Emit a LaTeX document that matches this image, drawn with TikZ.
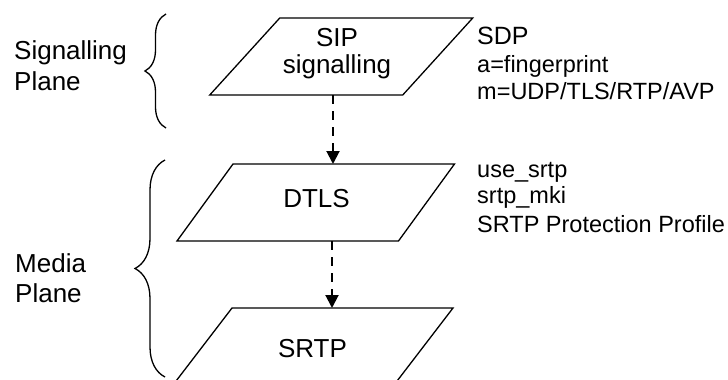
\documentclass[tikz,border=0pt]{standalone}
\usepackage{fontspec}
\setmainfont{Liberation Sans}
\usetikzlibrary{arrows.meta,calc,decorations.pathreplacing}
\begin{document}
\begin{tikzpicture}[x=1pt,y=-1pt,
  shapebox/.style={inner sep=0pt, outer sep=0pt, minimum height=77pt},
  para/.style={draw=black, line width=1.3pt, line join=miter},
  maintext/.style={inner sep=0pt, font=\fontsize{26}{30}\selectfont, anchor=base},
  sidetext/.style={inner sep=0pt, font=\fontsize{26}{30}\selectfont, anchor=base west},
  notetext/.style={inner sep=0pt, font=\fontsize{23.5}{27}\selectfont, anchor=base west},
  flow/.style={line width=2pt, dash pattern=on 9pt off 7pt, -{Triangle[length=13pt,width=13pt]}},
  bracepath/.style={line width=1.3pt, decorate},
]
\clip (0,0) rectangle (728,380);
\fill[white] (0,0) rectangle (728,380);

% shapes
\node[shapebox, minimum width=193pt] (sip) at (341.25,56.5) {};
\draw[para] ($(sip.north west)+(35,0)$) -- ($(sip.north east)+(35,0)$) -- ($(sip.south east)-(35,0)$) -- ($(sip.south west)-(35,0)$) -- cycle;

\node[shapebox, minimum width=221.5pt] (dtls) at (315.75,202.5) {};
\draw[para] ($(dtls.north west)+(28,0)$) -- ($(dtls.north east)+(28,0)$) -- ($(dtls.south east)-(28,0)$) -- ($(dtls.south west)-(28,0)$) -- cycle;

\node[shapebox, minimum width=221pt] (srtp) at (313,346.5) {};
\draw[para] ($(srtp.north west)+(29.5,0)$) -- ($(srtp.north east)+(29.5,0)$) -- ($(srtp.south east)-(29.5,0)$) -- ($(srtp.south west)-(29.5,0)$) -- cycle;

% texts in shapes
\node[maintext] (siptxta) at (337,46) {SIP};
\node[maintext] (siptxtb) at (337,73) {signalling};
\node[maintext] (dtlstxt) at (316.5,207) {DTLS};
\node[maintext] (srtptxt) at (312.5,357) {SRTP};

% connectors
\draw[flow] ([xshift=-8.25pt]sip.south) -- ([xshift=-8.25pt]sip.south |- dtls.north);
\draw[flow] ([xshift=16.25pt]dtls.south) -- ([xshift=16.25pt]dtls.south |- srtp.north);

% braces
\draw[bracepath, decoration={brace,amplitude=21pt}] (166,128) -- (166,14);
\draw[bracepath, decoration={brace,amplitude=30pt}] (165,377) -- (165,160);

% plane labels
\node[sidetext] (sigA) at (14,59) {Signalling};
\node[sidetext] (sigB) at (14,90) {Plane};
\node[sidetext] (medA) at (15,272) {Media};
\node[sidetext] (medB) at (15,302) {Plane};

% notes
\node[inner sep=0pt, font=\fontsize{25}{29}\selectfont, anchor=base west] (sdpA) at (477,44) {SDP};
\node[notetext] (sdpB) at (477,72) {a=fingerprint};
\node[notetext] (sdpC) at (477,99) {m=UDP/TLS/RTP/AVP};
\node[notetext] (dtA) at (477,177) {use\_srtp};
\node[notetext] (dtB) at (477,203) {srtp\_mki};
\node[notetext] (dtC) at (477,232) {SRTP Protection Profile};
\end{tikzpicture}
\end{document}
